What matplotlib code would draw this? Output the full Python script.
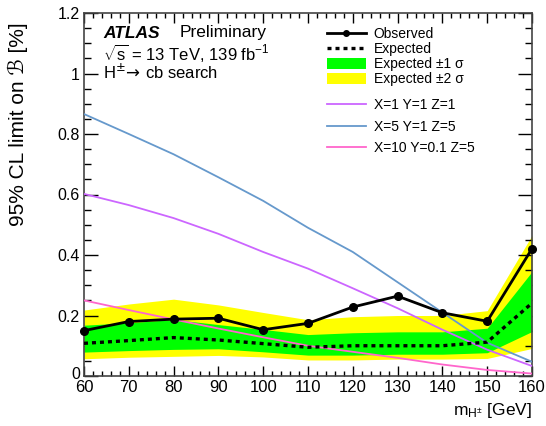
import matplotlib
matplotlib.use("Agg")
import matplotlib.pyplot as plt
import matplotlib.transforms as mtransforms
from matplotlib.ticker import MultipleLocator, FixedLocator, FixedFormatter
from matplotlib.lines import Line2D
from matplotlib.patches import Patch

plt.rcParams['font.family'] = ['Liberation Sans', 'DejaVu Sans']
plt.rcParams['mathtext.fontset'] = 'custom'
plt.rcParams['mathtext.rm'] = 'Liberation Sans'
plt.rcParams['mathtext.it'] = 'Liberation Sans:italic'

# Charged Higgs mass points [GeV]
mass = [60, 70, 80, 90, 100, 110, 120, 130, 140, 150, 160]

# 95% CL limits on B(t -> H+ b) x B(H+ -> cb) [%]
observed = [0.150, 0.180, 0.188, 0.191, 0.153, 0.174, 0.228, 0.264, 0.209, 0.181, 0.421]
expected = [0.108, 0.117, 0.127, 0.119, 0.107, 0.095, 0.100, 0.100, 0.100, 0.112, 0.241]
exp_p1 = [0.168, 0.176, 0.187, 0.170, 0.154, 0.137, 0.143, 0.146, 0.146, 0.158, 0.345]
exp_m1 = [0.079, 0.084, 0.088, 0.090, 0.080, 0.069, 0.069, 0.072, 0.072, 0.077, 0.147]
exp_p2 = [0.218, 0.238, 0.254, 0.235, 0.210, 0.186, 0.196, 0.200, 0.200, 0.216, 0.465]
exp_m2 = [0.057, 0.062, 0.065, 0.068, 0.063, 0.053, 0.053, 0.056, 0.056, 0.058, 0.091]

# 3HDM benchmark predictions
model_labels = ["X=1 Y=1 Z=1", "X=5 Y=1 Z=5", "X=10 Y=0.1 Z=5"]
model_colors = ["#cc66ff", "#6699cc", "#ff66cc"]
model_x1 = [0.602, 0.565, 0.522, 0.470, 0.410, 0.355, 0.290, 0.224, 0.153, 0.087, 0.033]
model_x5 = [0.866, 0.800, 0.733, 0.657, 0.579, 0.490, 0.410, 0.310, 0.210, 0.110, 0.047]
model_x10 = [0.250, 0.218, 0.187, 0.157, 0.128, 0.100, 0.080, 0.060, 0.038, 0.020, 0.008]
models = [model_x1, model_x5, model_x10]

x_ticks = [60, 70, 80, 90, 100, 110, 120, 130, 140, 150, 160]
y_ticks = [0, 0.2, 0.4, 0.6, 0.8, 1.0, 1.2]
y_tick_labels = ["0", "0.2", "0.4", "0.6", "0.8", "1", "1.2"]

W, H = 546, 426
fig = plt.figure(figsize=(W / 100, H / 100), dpi=100)
ax = fig.add_axes([84 / W, 1 - 376 / H, 448 / W, 363 / H])

ax.fill_between(mass, exp_m2, exp_p2, color="#ffff00", lw=0, zorder=1)
ax.fill_between(mass, exp_m1, exp_p1, color="#00ff00", lw=0, zorder=2)
ax.plot(mass, expected, color="black", ls=(0, (1.2, 1.2)), lw=2.4, zorder=4)
for vals, col in zip(models, model_colors):
    ax.plot(mass, vals, color=col, lw=1.3, zorder=3)
ax.plot(mass, observed, color="black", lw=2.0, marker="o", ms=5.5, zorder=5,
        clip_on=False)

ax.set_xlim(60, 160)
ax.set_ylim(0, 1.2)
ax.xaxis.set_major_locator(FixedLocator(x_ticks))
ax.xaxis.set_minor_locator(MultipleLocator(2))
ax.yaxis.set_major_locator(FixedLocator(y_ticks))
ax.yaxis.set_major_formatter(FixedFormatter(y_tick_labels))
ax.yaxis.set_minor_locator(MultipleLocator(0.05))

ax.tick_params(axis="both", which="both", direction="in", top=True, right=True,
               width=1.0, color="black")
ax.tick_params(axis="x", which="major", length=7.5, labelsize=12, pad=3)
ax.tick_params(axis="x", which="minor", length=3.8)
ax.tick_params(axis="y", which="major", length=10, labelsize=11.5, pad=3)
ax.tick_params(axis="y", which="minor", length=5)
for s in ax.spines.values():
    s.set_linewidth(1.2)
    s.set_color("#444444")

# lift the "0" label a little so it clears the "60" below it
fig.canvas.draw()
zero_lbl = ax.yaxis.get_majorticklabels()[0]
zero_lbl.set_transform(zero_lbl.get_transform() +
                       mtransforms.ScaledTranslation(0, 3 / 100, fig.dpi_scale_trans))

# Axis titles
fig.text(18 / W, 1 - 22 / H, "95% CL limit on ℬ [%]", rotation=90,
         ha="center", va="top", fontsize=15)
fig.text(532 / W, 1 - 410 / H, r"m$_{\mathregular{H^{\pm}}}$ [GeV]",
         ha="right", va="center", fontsize=12.5)

# Experiment labels
fig.text(103 / W, 1 - 33 / H, "ATLAS", fontsize=12.5, fontweight="bold",
         fontstyle="italic", ha="left", va="center")
fig.text(180 / W, 1 - 33 / H, "Preliminary", fontsize=12.5,
         ha="left", va="center")
fig.text(103 / W, 1 - 53 / H, r"$\sqrt{\mathregular{s}}$ = 13 TeV, 139 fb$^{\mathregular{-1}}$",
         fontsize=12, ha="left", va="center")
fig.text(103 / W, 1 - 72 / H, r"H$^{\pm}\!\rightarrow\!$ cb search",
         fontsize=12, ha="left", va="center", math_fontfamily="dejavusans")

# Legends
h1 = [Line2D([], [], color="black", lw=2.0, marker="o", ms=4),
      Line2D([], [], color="black", ls=(0, (1.2, 1.2)), lw=2.4),
      Patch(facecolor="#00ff00", lw=0),
      Patch(facecolor="#ffff00", lw=0)]
l1 = ["Observed", "Expected", "Expected ±1 σ", "Expected ±2 σ"]
leg1 = fig.legend(h1, l1, loc="upper left", bbox_to_anchor=(327 / W, 1 - 27 / H),
                  frameon=False, fontsize=10, handlelength=2.8, handleheight=0.8,
                  handletextpad=0.55, labelspacing=0.08, borderpad=0,
                  borderaxespad=0)
h2 = [Line2D([], [], color=c, lw=1.3) for c in model_colors]
leg2 = fig.legend(h2, model_labels, loc="upper left",
                  bbox_to_anchor=(327 / W, 1 - 98 / H), frameon=False,
                  fontsize=10, handlelength=2.8, handletextpad=0.55,
                  labelspacing=0.55, borderpad=0, borderaxespad=0)

fig.savefig("out.png", dpi=100)
